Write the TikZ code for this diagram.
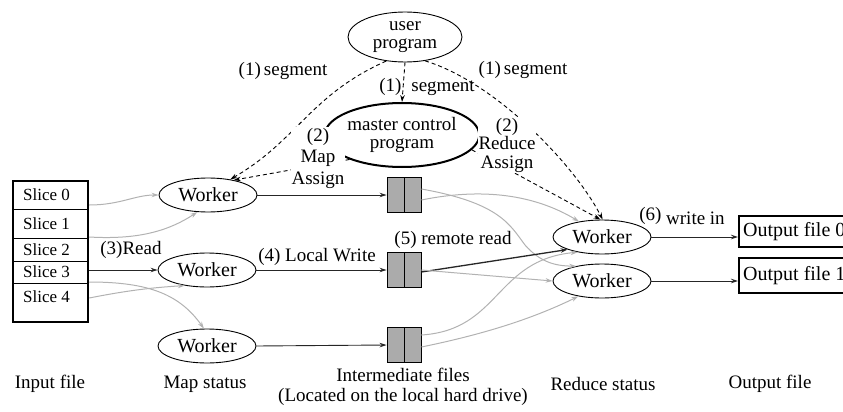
\documentclass[tikz,border=0pt]{standalone}
\usepackage{fontspec}
\setmainfont{Liberation Serif}
\newfontfamily\tnr{Liberation Serif}
\usetikzlibrary{arrows.meta,shapes.geometric}
\begin{document}
\begin{tikzpicture}[x=1pt,y=-1pt,
  txt/.style={font=\tnr\fontsize{19}{21.5}\selectfont, inner sep=0pt, align=center},
  slicetxt/.style={font=\tnr\fontsize{17}{19}\selectfont, inner sep=0pt, anchor=west},
  wk/.style={ellipse, draw, line width=0.9pt, minimum width=98pt, minimum height=34pt, inner sep=0pt, font=\tnr\fontsize{20}{20}\selectfont},
  blk/.style={draw, fill=black!33, line width=0.9pt, minimum width=34pt, minimum height=35pt, inner sep=0pt},
  arr/.style={-{Stealth[length=7pt,width=4.5pt]}, line width=0.9pt, draw=black!85},
  garr/.style={-{Stealth[length=7pt,width=4.5pt]}, line width=1pt, draw=black!30},
  dsh/.style={-{Stealth[length=7pt,width=4.5pt]}, line width=0.9pt, dash pattern=on 4pt off 3pt},
  outbox/.style={draw, line width=2.4pt, anchor=west, inner xsep=4pt, inner ysep=0pt, font=\tnr\fontsize{20}{20}\selectfont}
]
\useasboundingbox (0,0) rectangle (843,412);

% input file
\node[draw, line width=2.4pt, minimum width=75pt, minimum height=141pt, inner sep=0pt] (inbox) at (50.5,251.5) {};
\draw[line width=0.8pt] (13,209) -- (88,209) (13,238) -- (88,238) (13,261) -- (88,261) (13,283) -- (88,283);
\node[slicetxt] (s0) at (23,195) {Slice 0};
\node[slicetxt] (s1) at (23,223.5) {Slice 1};
\node[slicetxt] (s2) at (23,249.5) {Slice 2};
\node[slicetxt] (s3) at (23,272) {Slice 3};
\node[slicetxt] (s4) at (23,297) {Slice 4};

% programs
\node[ellipse, draw, line width=0.9pt, minimum width=114pt, minimum height=50pt, inner sep=0pt, txt] (user) at (405,37) {user\\[-3pt]program};
\node[ellipse, draw, line width=2pt, minimum width=142pt, minimum height=64pt, inner sep=0pt, txt] (master) at (402,135) {master control\\[-4pt]program};

% workers
\node[wk] (m1) at (208,195) {Worker};
\node[wk] (m2) at (207,270) {Worker};
\node[wk] (m3) at (207,346) {Worker};
\node[wk] (r1) at (602,237) {Worker};
\node[wk] (r2) at (602,281) {Worker};

% intermediate blocks
\node[blk] (b1) at (404,195) {};
\node[blk] (b2) at (404,270) {};
\node[blk] (b3) at (404,345) {};
\foreach \b in {b1,b2,b3} \draw[line width=0.9pt] (\b.north) -- (\b.south);

% outputs
\node[outbox, minimum height=31pt] (o0) at (738,231.5) {Output file 0};
\node[outbox, minimum height=35pt] (o1) at (738,275.5) {Output file 1};

% dashed arrows
\draw[dsh] (user.232) .. controls (310,95) and (298,140) .. (m1.35);
\draw[dsh] (master.205) -- (m1.30);
\draw[dsh] (user.-50) .. controls (495,82) and (575,165) .. (r1.88);
\draw[dsh] (master.-12) -- (r1.95);
\draw[dsh] (user.south) -- (master.north);

% input reads
\draw[garr] (inbox.east |- 0,205) .. controls (120,205) and (135,195) .. (m1.west);
\draw[garr] (inbox.east |- 0,237) .. controls (140,240) and (170,230) .. (m1.238);
\draw[arr] (inbox.east |- m2.west) -- (m2.west);
\draw[garr] (inbox.east |- 0,298) .. controls (120,292) and (145,288) .. (m2.215);
\draw[garr] (inbox.east |- 0,282) .. controls (150,282) and (180,295) .. (m3.100);

% local writes
\draw[arr] (m1.east) -- (b1.west);
\draw[arr] (m2.east) -- (b2.west);
\draw[arr] (m3.east) -- (b3.west);

% remote reads
\draw[garr] ([yshift=-5pt]b1.east) .. controls (490,186) and (540,198) .. (r1.146);
\draw[garr] ([yshift=6pt]b1.east) .. controls (500,203) and (510,225) .. (525,245) .. controls (540,262) and (555,266) .. (r2.150);
\draw[arr, line width=1.3pt] ([yshift=-2pt]b2.east) -- (r1.200);
\draw[garr] (b2.east) -- (r2.west);
\draw[garr] ([yshift=10pt]b3.east) .. controls (500,330) and (495,260) .. (r1.212);
\draw[garr] ([yshift=-2pt]b3.east) .. controls (480,335) and (530,320) .. (r2.213);

% writes out
\draw[arr] (r1.east) -- (o0.west |- r1.east);
\draw[arr] (r2.east) -- (o1.west |- r2.east);

% labels
\node[txt] (l1a) at (283,71) {(1)\,segment};
\node[txt] (l1b) at (427,87) {(1)\hspace{10pt}segment};
\node[txt] (l1c) at (523,70) {(1)\,segment};
\node[txt, fill=white, inner sep=1pt] (l2a) at (318,158) {(2)\\Map\\Assign};
\node[txt, fill=white, inner sep=1pt] (l2b) at (507,145) {(2)\\[-3pt]Reduce\\[-3pt]Assign};
\node[txt] (l3) at (131,250) {(3)Read};
\node[txt] (l4) at (317,257) {(4) Local Write};
\node[txt] (l5) at (453,240) {(5) remote read};
\node[txt] (l6) at (682,216) {\raisebox{4pt}{(6)} write in};

% bottom captions
\node[txt] (c1) at (50,384) {Input file};
\node[txt] (c2) at (205,384) {Map status};
\node[txt] (c3) at (403,375) {Intermediate files};
\node[txt] (c4) at (403,397) {(Located on the local hard drive)};
\node[txt] (c5) at (603,384) {Reduce status};
\node[txt] (c6) at (770,384) {Output file};
\end{tikzpicture}
\end{document}
